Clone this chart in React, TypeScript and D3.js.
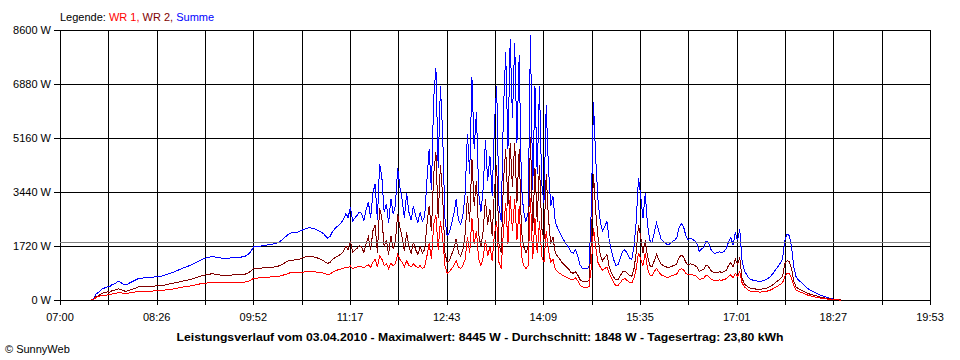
import React from "react";
import * as d3 from "d3";

// axis range and labels
const axisStart = "07:00";
const axisEnd = "19:53";
const xTickLabels = ["07:00", "08:26", "09:52", "11:17", "12:43", "14:09", "15:35", "17:01", "18:27", "19:53"];
const yTicks = [0, 1720, 3440, 5160, 6880, 8600];
const average = 1848;

// samples every 2 minutes, starting 07:28
const startTime = "07:28";
const stepMinutes = 2;

// WR 1 (red), W
const wr1H07 = [0, 20, 80, 110, 130, 140, 150, 160, 170, 190, 200, 220, 240, 230, 210, 200];
const wr1H08 = [210, 230, 240, 250, 260, 270, 270, 275, 280, 280, 285, 285, 290, 290, 295, 300, 310, 320, 330, 340, 350, 360, 375, 390, 405, 420, 430, 440, 450, 465];
const wr1H09 = [480, 495, 510, 520, 530, 540, 545, 550, 550, 550, 548, 545, 545, 548, 550, 550, 552, 555, 558, 560, 560, 565, 570, 580, 600, 640, 690, 700, 700, 705];
const wr1H10 = [720, 720, 725, 730, 735, 740, 745, 755, 770, 790, 810, 835, 860, 870, 875, 880, 880, 885, 890, 895, 900, 900, 900, 895, 890, 880, 870, 860, 830, 800];
const wr1H11 = [830, 880, 920, 950, 970, 990, 1010, 1040, 1020, 1080, 1000, 1030, 1050, 1070, 1060, 1020, 1080, 1120, 1040, 1200, 1300, 1050, 1400, 1300, 1100, 1150, 1000, 1180, 1080, 1150];
const wr1H12 = [1450, 1300, 1200, 1050, 1250, 1100, 1050, 1150, 1080, 1020, 1100, 1000, 1050, 1400, 1800, 1300, 2400, 2700, 1600, 2500, 2000, 1100, 850, 900, 1000, 1100, 1250, 1050, 1000, 1100];
const wr1H13 = [1300, 2000, 1500, 2600, 1800, 2200, 1300, 1100, 1350, 1900, 1400, 1700, 1250, 2100, 2500, 1200, 1000, 2200, 3100, 1800, 3300, 2200, 3200, 1900, 3000, 1400, 1100, 1000, 1100, 3245];
const wr1H14 = [1300, 2600, 1500, 2500, 1400, 1200, 2200, 1600, 1200, 1300, 1000, 900, 850, 800, 760, 720, 690, 650, 640, 700, 620, 470, 420, 400, 410, 420, 1000, 2300, 1700, 1200];
const wr1H15 = [1050, 950, 1000, 1050, 850, 700, 560, 450, 470, 560, 660, 680, 620, 560, 540, 700, 1000, 1500, 1300, 1100, 1500, 1000, 800, 760, 900, 1000, 900, 800, 780, 740];
const wr1H16 = [720, 740, 780, 800, 830, 950, 1000, 960, 850, 800, 820, 800, 780, 740, 650, 680, 700, 780, 760, 680, 640, 620, 630, 640, 630, 650, 680, 750, 800, 700];
const wr1H17 = [850, 750, 900, 550, 420, 360, 300, 280, 270, 260, 260, 250, 260, 270, 280, 300, 330, 370, 410, 450, 500, 550, 750, 850, 830, 700, 450, 320, 280, 250];
const wr1H18 = [220, 190, 160, 140, 120, 100, 90, 75, 60, 50, 40, 30, 20, 15, 10, 5, 0, 0];

// WR 2 (dark red), W
const wr2H07 = [0, 30, 110, 130, 180, 220, 240, 260, 250, 290, 310, 330, 360, 330, 300, 280];
const wr2H08 = [290, 320, 340, 370, 390, 420, 420, 425, 430, 430, 440, 440, 445, 450, 455, 460, 470, 485, 500, 515, 530, 545, 560, 575, 590, 610, 625, 640, 655, 680];
const wr2H09 = [700, 720, 745, 770, 790, 805, 815, 830, 830, 820, 805, 795, 790, 785, 780, 785, 790, 800, 805, 800, 800, 810, 820, 840, 880, 930, 1000, 1010, 1010, 1010];
const wr2H10 = [1020, 1020, 1025, 1030, 1040, 1050, 1060, 1080, 1110, 1150, 1190, 1230, 1260, 1270, 1275, 1280, 1290, 1320, 1350, 1370, 1390, 1400, 1390, 1370, 1350, 1320, 1290, 1260, 1200, 1170];
const wr2H11 = [1200, 1290, 1340, 1380, 1420, 1480, 1560, 1720, 1600, 1880, 1520, 1580, 1650, 1730, 1700, 1500, 1800, 2000, 1580, 2200, 2400, 1500, 2930, 2600, 1700, 1900, 1450, 2050, 1650, 1850];
const wr2H12 = [2750, 2300, 2000, 1550, 2150, 1700, 1500, 1850, 1600, 1450, 1700, 1500, 1600, 2400, 3000, 2200, 4000, 4700, 2600, 4300, 3300, 1500, 1200, 1250, 1450, 1650, 1950, 1500, 1400, 1600];
const wr2H13 = [2100, 3300, 2500, 4500, 3000, 3800, 2100, 1700, 2200, 3200, 2400, 2900, 2050, 3500, 4300, 1800, 1500, 3800, 4800, 3000, 5000, 3600, 5000, 3100, 4800, 2200, 1700, 1500, 1700, 5200];
const wr2H14 = [2200, 4200, 2500, 4300, 2300, 1900, 4000, 2600, 1800, 2000, 1500, 1400, 1300, 1200, 1120, 1050, 980, 880, 850, 900, 800, 650, 600, 590, 590, 620, 1800, 4000, 2800, 2000];
const wr2H15 = [1450, 1250, 1350, 1450, 1050, 850, 720, 640, 660, 780, 900, 920, 860, 780, 750, 1000, 1500, 2400, 2000, 1500, 1900, 1400, 1100, 1050, 1250, 1450, 1300, 1150, 1100, 1060];
const wr2H16 = [1040, 1050, 1080, 1100, 1150, 1350, 1430, 1380, 1200, 1120, 1150, 1130, 1100, 1050, 900, 950, 980, 1100, 1080, 950, 890, 860, 880, 900, 880, 900, 950, 1100, 1200, 1050];
const wr2H17 = [1300, 1150, 1350, 700, 520, 450, 400, 370, 360, 350, 340, 340, 350, 360, 380, 410, 450, 500, 560, 620, 680, 750, 1150, 1250, 1220, 1000, 600, 420, 360, 330];
const wr2H18 = [290, 250, 220, 190, 170, 150, 130, 110, 90, 75, 60, 45, 35, 25, 15, 10, 5, 0];

const wr1 = [...wr1H07, ...wr1H08, ...wr1H09, ...wr1H10, ...wr1H11, ...wr1H12, ...wr1H13, ...wr1H14, ...wr1H15, ...wr1H16, ...wr1H17, ...wr1H18];
const wr2 = [...wr2H07, ...wr2H08, ...wr2H09, ...wr2H10, ...wr2H11, ...wr2H12, ...wr2H13, ...wr2H14, ...wr2H15, ...wr2H16, ...wr2H17, ...wr2H18];
// Summe = WR 1 + WR 2
const summe = wr1.map((v, i) => v + wr2[i]);

const toMin = (s: string) => {
  const [h, m] = s.split(":").map(Number);
  return h * 60 + m;
};

const font = "'Liberation Sans', Arial, sans-serif";

const App = () => {
  const left = 60, right = 930, top = 30, bottom = 300;
  const t0 = toMin(axisStart);
  const t1 = toMin(axisEnd);
  const x = d3.scaleLinear().domain([t0, t1]).range([left, right]);
  const y = d3.scaleLinear().domain([0, 8600]).range([bottom, top]);

  const gridCount = (xTickLabels.length - 1) * 2;
  const gridTimes = d3.range(gridCount + 1).map(k => t0 + (k * (t1 - t0)) / gridCount);

  const s0 = toMin(startTime);
  const line = d3.line<number>()
    .x((_, i) => x(s0 + i * stepMinutes))
    .y(d => y(d));

  const px = (v: number) => Math.round(v) + 0.5;

  return (
    <svg width={960} height={360} style={{ position: "absolute", left: 0, top: 0, background: "#fff" }}
      fontFamily={font} fontSize={11}>
      <rect x={0} y={0} width={960} height={360} fill="#fff" />

      {/* legend */}
      <text x={60} y={21}>
        <tspan fill="#000">Legende: </tspan>
        <tspan fill="#ff0000">WR 1, </tspan>
        <tspan fill="#800000">WR 2, </tspan>
        <tspan fill="#0000ff">Summe</tspan>
      </text>

      {/* grid */}
      <g stroke="#000" strokeWidth={1} shapeRendering="crispEdges">
        {gridTimes.map((t, k) => (
          <line key={"v" + k} x1={px(x(t))} x2={px(x(t))} y1={top} y2={bottom + 5} />
        ))}
        {yTicks.map(v => (
          <line key={"h" + v} x1={left - 6} x2={right} y1={px(y(v))} y2={px(y(v))} />
        ))}
      </g>

      {/* series */}
      <g fill="none" strokeWidth={1} shapeRendering="crispEdges">
        <path d={line(summe) || ""} stroke="#0000ff" />
        <path d={line(wr2) || ""} stroke="#800000" />
        <path d={line(wr1) || ""} stroke="#ff0000" />
      </g>

      {/* average */}
      <line x1={left} x2={right} y1={px(y(average))} y2={px(y(average))}
        stroke="#808080" strokeWidth={1} shapeRendering="crispEdges" />

      {/* y labels */}
      {yTicks.map(v => (
        <text key={"yl" + v} x={51} y={y(v) + 4} textAnchor="end" fill="#000">
          {v} W
        </text>
      ))}

      {/* x labels */}
      {xTickLabels.map((lab, k) => (
        <text key={lab} x={x(gridTimes[k * 2])} y={321} textAnchor="middle" fill="#000">
          {lab}
        </text>
      ))}

      <text x={480} y={341} textAnchor="middle" fontWeight="bold" fill="#000" textLength={607} lengthAdjust="spacingAndGlyphs">
        Leistungsverlauf vom 03.04.2010 - Maximalwert: 8445 W - Durchschnitt: 1848 W - Tagesertrag: 23,80 kWh
      </text>
      <text x={5} y={353} fill="#000">© SunnyWeb</text>
    </svg>
  );
};

export default App;
